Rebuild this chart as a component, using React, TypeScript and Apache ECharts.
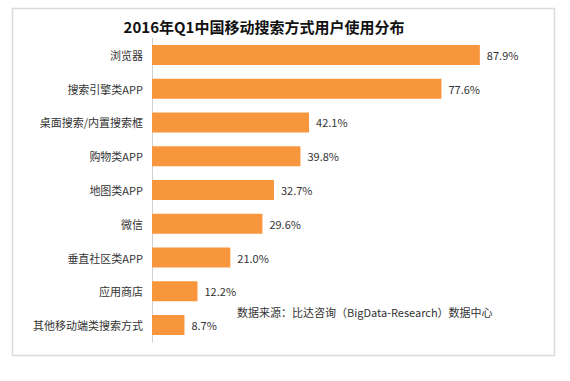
import React, { useEffect, useRef } from "react";
import * as echarts from "echarts";

const title = "2016年Q1中国移动搜索方式用户使用分布";
const categories = [
  "浏览器",
  "搜索引擎类APP",
  "桌面搜索/内置搜索框",
  "购物类APP",
  "地图类APP",
  "微信",
  "垂直社区类APP",
  "应用商店",
  "其他移动端类搜索方式",
];
const values = [87.9, 77.6, 42.1, 39.8, 32.7, 29.6, 21.0, 12.2, 8.7];
const sourceNote = "数据来源：比达咨询（BigData-Research）数据中心";

const FONT = "'Noto Sans CJK SC', 'Noto Sans', sans-serif";

export default function App() {
  const ref = useRef<HTMLDivElement>(null);
  useEffect(() => {
    if (!ref.current) return;
    const chart = echarts.init(ref.current, null, { renderer: "svg" });
    chart.setOption({
      animation: false,
      backgroundColor: "#ffffff",
      textStyle: { fontFamily: FONT },
      title: {
        text: title,
        left: 259,
        top: 14,
        textAlign: "center",
        textStyle: { fontSize: 15, fontWeight: "bold", color: "#111", fontFamily: FONT },
      },
      graphic: [
        {
          type: "rect",
          z: -10,
          shape: { x: 12.5, y: 8.5, width: 542, height: 347 },
          style: { fill: "#ffffff", stroke: "#dcdcdc", lineWidth: 1.5 },
          silent: true,
        },
        {
          type: "text",
          left: 237,
          top: 306,
          style: { text: sourceNote, fontSize: 11, fill: "#333", fontFamily: FONT },
        },
      ],
      grid: { left: 152, top: 38, height: 304, right: 45 },
      xAxis: {
        type: "value",
        min: 0,
        max: 100,
        show: false,
      },
      yAxis: {
        type: "category",
        data: categories,
        inverse: true,
        axisLine: { show: true, lineStyle: { color: "#d0d0d0", width: 1 } },
        axisTick: { show: false },
        axisLabel: { fontSize: 11, color: "#333", margin: 9, fontFamily: FONT },
      },
      series: [
        {
          type: "bar",
          data: values,
          barWidth: 20,
          itemStyle: { color: "#f8963e" },
          label: {
            show: true,
            position: "right",
            distance: 7,
            fontSize: 11,
            color: "#333",
            fontFamily: FONT,
            formatter: (p: any) => `${Number(p.value).toFixed(1)}%`,
          },
        },
      ],
    });
    return () => chart.dispose();
  }, []);
  return (
    <div
      ref={ref}
      style={{ position: "fixed", left: 0, top: 0, width: 570, height: 381 }}
    />
  );
}
